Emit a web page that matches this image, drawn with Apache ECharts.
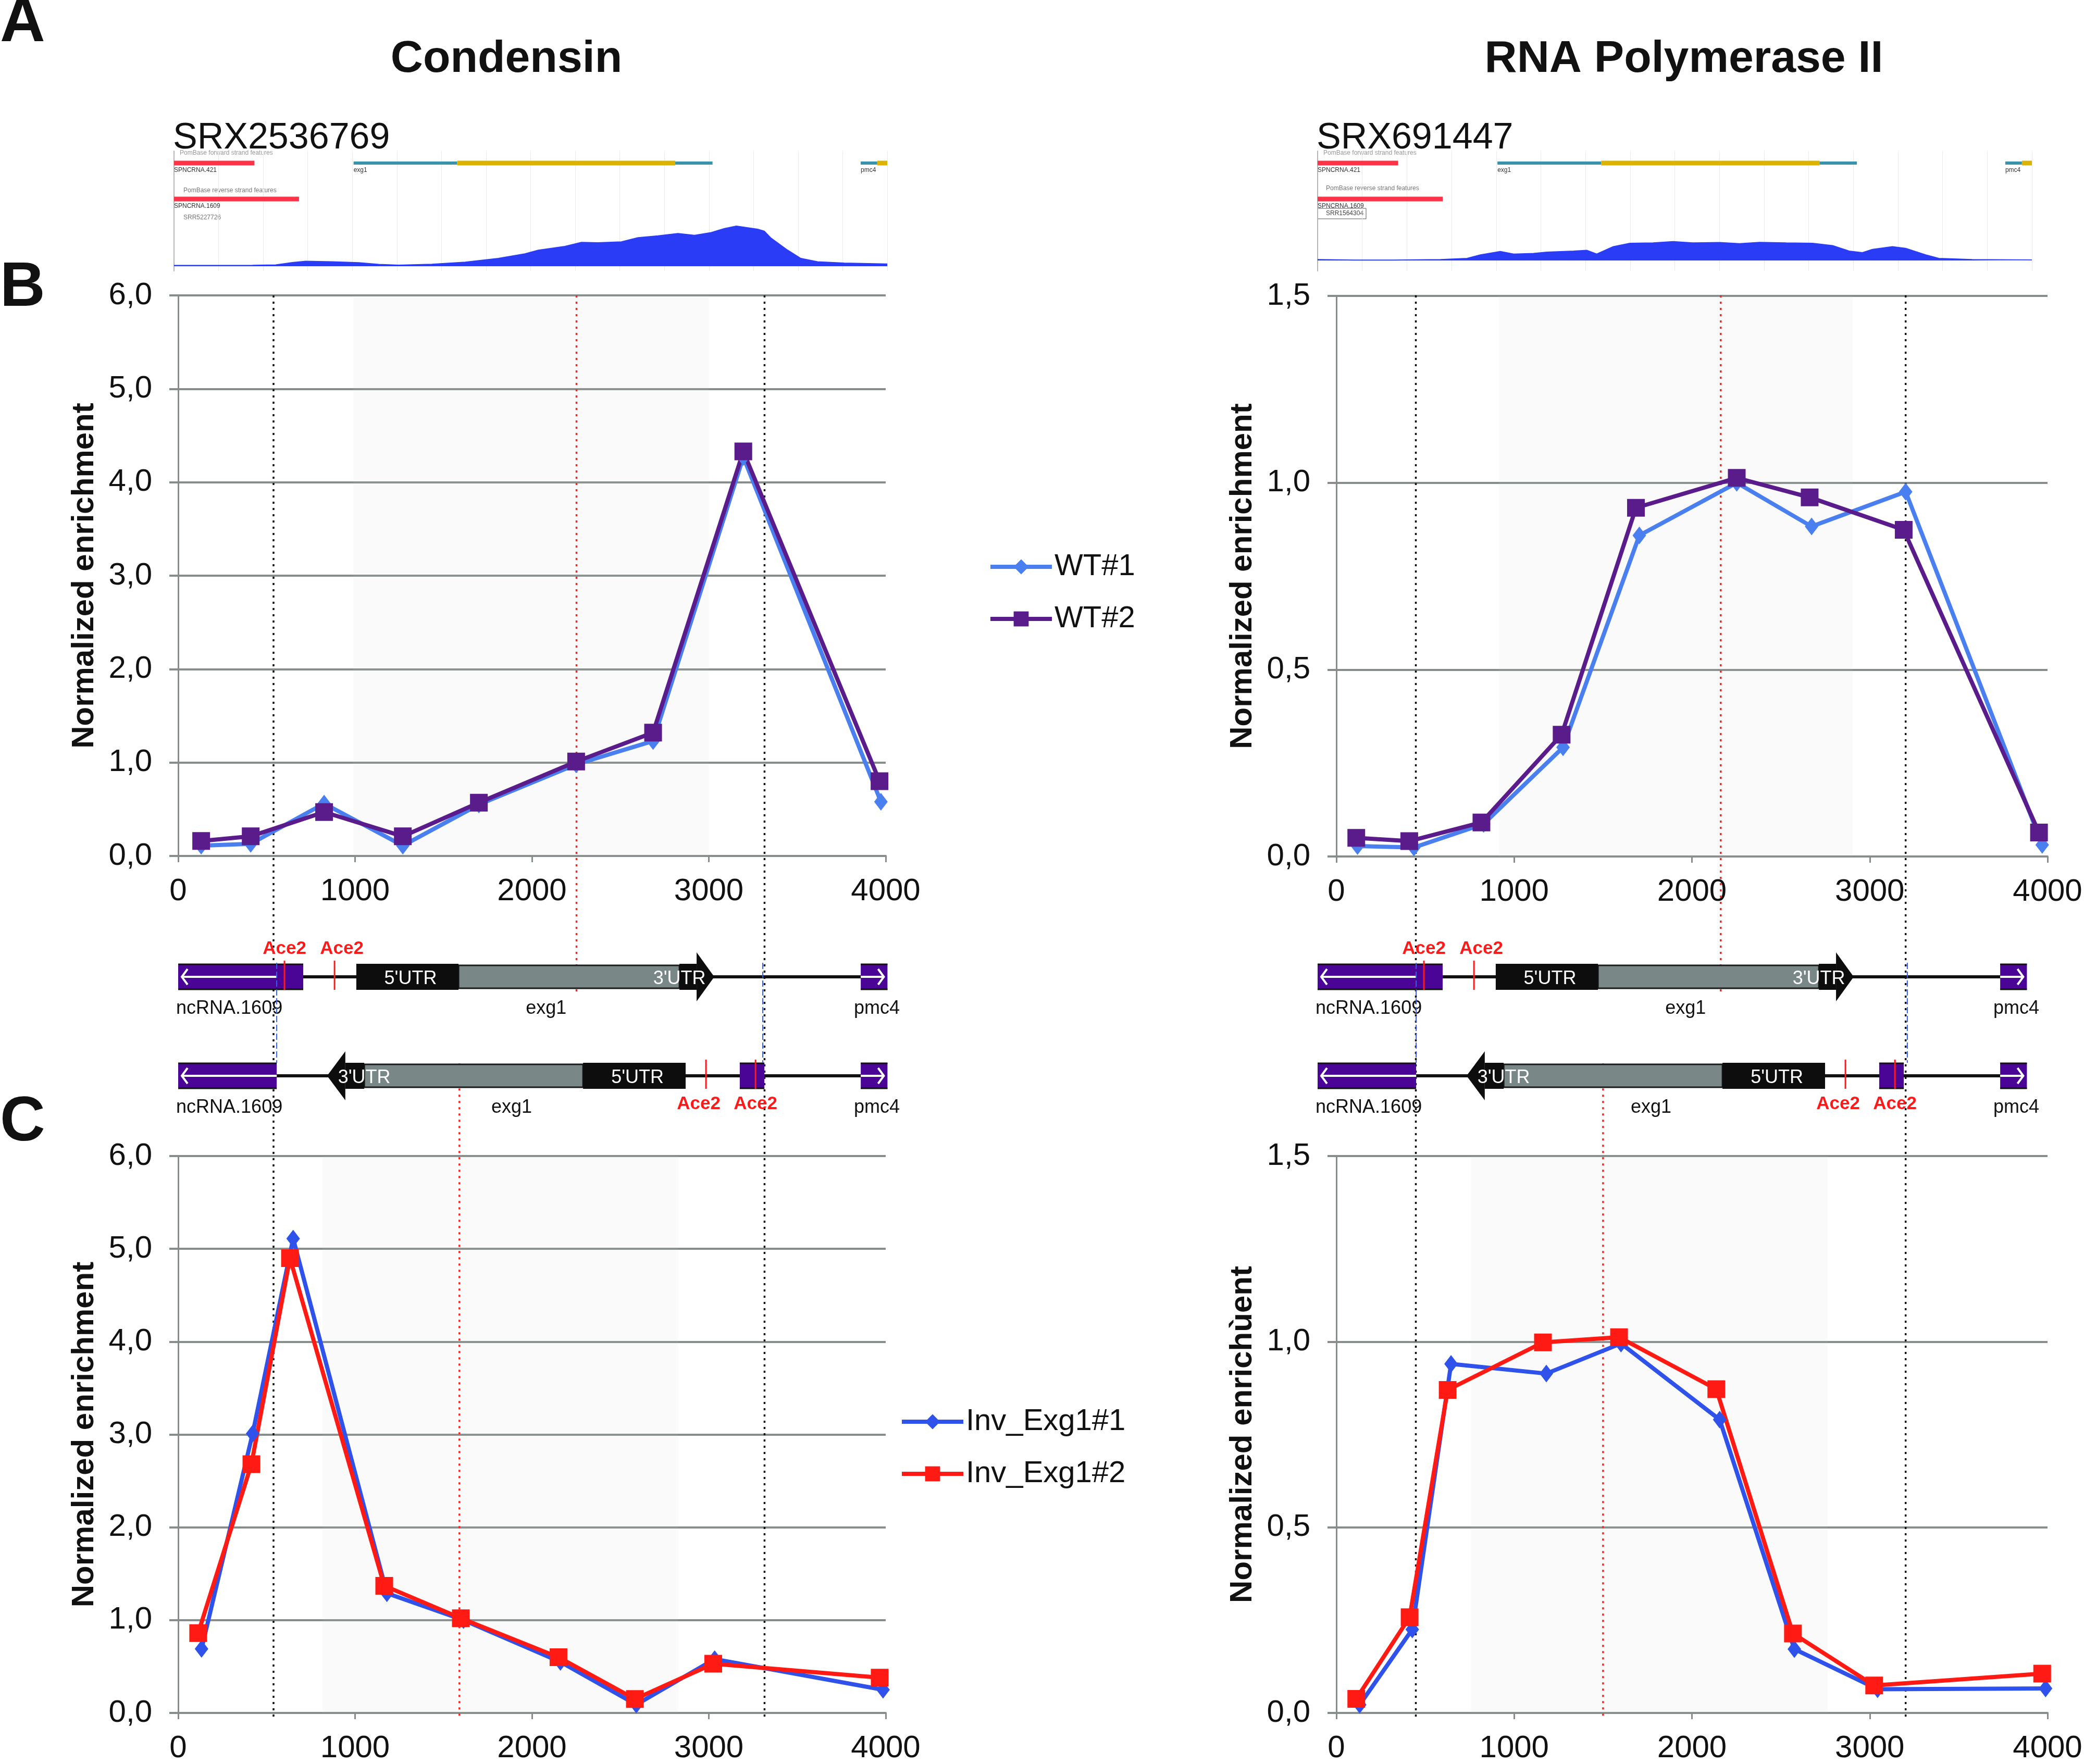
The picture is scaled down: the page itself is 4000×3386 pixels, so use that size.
<!DOCTYPE html>
<html>
<head>
<meta charset="utf-8">
<script src="https://cdn.jsdelivr.net/npm/echarts@6/dist/echarts.min.js"></script>
<style>
  html, body { margin: 0; padding: 0; background: #fff; }
  #chart { width: 4000px; height: 3386px; }
</style>
</head>
<body>
<div id="chart"></div>
<script>
const FONT = '"Liberation Sans", Arial, sans-serif';
const AXIS = '#878d8b';

// ---- panel B : wild type ----
const condWtX1 = [130, 410, 825, 1270, 1700, 2250, 2685, 3195, 3973];
const condWtX2 = [130, 410, 825, 1270, 1700, 2250, 2685, 3195, 3965];
const condWt1 = [0.11, 0.13, 0.56, 0.11, 0.55, 0.98, 1.23, 4.27, 0.58];
const condWt2 = [0.16, 0.21, 0.47, 0.21, 0.57, 1.01, 1.32, 4.33, 0.80];

const polWtX1 = [119, 436, 828, 1275, 1704, 2252, 2673, 3202, 3970];
const polWtX2 = [112, 410, 816, 1267, 1685, 2252, 2662, 3191, 3952];
const polWt1 = [0.028, 0.024, 0.087, 0.292, 0.859, 1.0, 0.883, 0.976, 0.031];
const polWt2 = [0.050, 0.041, 0.091, 0.326, 0.933, 1.013, 0.961, 0.874, 0.064];

// ---- panel C : inverted exg1 ----
const condInvX1 = [132, 421, 650, 1180, 1613, 2161, 2590, 3033, 3985];
const condInvX2 = [113, 414, 632, 1165, 1598, 2150, 2582, 3025, 3966];
const condInv1 = [0.69, 3.01, 5.11, 1.29, 1.00, 0.55, 0.09, 0.58, 0.25];
const condInv2 = [0.86, 2.68, 4.90, 1.37, 1.02, 0.60, 0.15, 0.53, 0.38];

const polInvX1 = [131, 427, 645, 1181, 1601, 2156, 2576, 3044, 3989];
const polInvX2 = [112, 412, 626, 1162, 1590, 2137, 2568, 3025, 3970];
const polInv1 = [0.022, 0.225, 0.940, 0.914, 0.995, 0.790, 0.172, 0.064, 0.066];
const polInv2 = [0.038, 0.258, 0.870, 0.998, 1.012, 0.872, 0.214, 0.074, 0.106];

// grey gene-body bands [from, to]
const bandB = [[990, 3000], [913, 2904]];
const bandC = [[816, 2827], [757, 2763]];

// dotted guides [x, fromPct, toPct, red?]
const guidesLeft = [[539, 0, 100, 0], [3315, 0, 100, 0], [2252, 0, 49, 1], [1590, 54, 100, 1]];
const guidesRight = [[447, 0, 100, 0], [3202, 0, 100, 0], [2162, 0, 49, 1], [1500, 54, 100, 1]];

// ---- ChIP-seq coverage tracks ----
const covLeftX = [0, 440, 570, 664, 738, 887, 1036, 1148, 1260, 1446, 1633, 1819, 1968, 2043, 2192, 2285, 2378, 2509, 2602, 2714, 2826, 2919, 3012, 3087, 3154, 3273, 3310, 3348, 3441, 3515, 3609, 3758, 4000];
const covLeftY = [1.5, 1.8, 2.6, 7.4, 10, 8.8, 7, 3.7, 2.2, 4, 8.1, 15.5, 24.7, 32, 39.4, 47.6, 46.8, 48.7, 56.8, 60.5, 65.3, 61.6, 67.1, 75.2, 80, 73.7, 70, 56, 32, 15.5, 8.8, 6.3, 4.4];
const covRightX = [0, 205, 428, 688, 837, 912, 1023, 1098, 1209, 1284, 1433, 1507, 1563, 1656, 1749, 1879, 1991, 2102, 2251, 2363, 2474, 2623, 2772, 2884, 2977, 3051, 3107, 3219, 3293, 3405, 3479, 3665, 4000];
const covRightY = [0.5, 0.2, 0.2, 0.5, 1.1, 2.9, 4.6, 3.3, 3.6, 4.3, 4.8, 5.2, 3.3, 7.1, 8.8, 9.0, 9.7, 9.0, 9.2, 8.6, 9.3, 9.0, 8.8, 7.6, 4.8, 4.0, 5.7, 7.1, 6.2, 2.9, 1.1, 0.5, 0.3];

// browser features [row, start, end, kind 0 ncRNA / 1 UTR / 2 CDS]
const trackBars = [[1, 0, 451, 0], [4, 0, 701, 0], [1, 1007, 1588, 1], [1, 1588, 2811, 2], [1, 2811, 3020, 1], [1, 3851, 3944, 1], [1, 3944, 4000, 2]];
const trackNames = ['SPNCRNA.421', 'exg1', 'pmc4', 'SPNCRNA.1609'];
const trackLabels = [[1, 0, 0], [1, 1007, 1], [1, 3851, 2], [4, 0, 3]];

// ---- gene maps (row 1 = wild type, row 3 = inverted) ----
const backbone = [[1, 707, 3859], [3, 557, 3859]];
const purpleBoxes = [[1, 0, 707, 557, -1], [3, 0, 557, 557, -1], [1, 3859, 4010, 4010, 1], [3, 3859, 4010, 4010, 1], [3, 3175, 3314, 3175, 0]];
const utr5Boxes = [[1, 1007, 1585], [3, 2289, 2869]];
const cdsBoxes = [[1, 1585, 2834], [3, 1052, 2289]];
const utr3Heads = [[1, 2834, 2931, 3031], [3, 1052, 945, 842]];
// [row, position, label side (-1 above / 1 below), label nudge]
const ace2Sites = [[1, 601, -1, 0], [1, 884, -1, 1], [3, 2984, 1, -1], [3, 3264, 1, 0]];
const geneNames = ['ncRNA.1609', 'exg1', 'pmc4'];
const geneLabels = [[1, 289, 0], [1, 2080, 1], [1, 3950, 2], [3, 289, 0], [3, 1885, 1], [3, 3950, 2]];
const junctionsLeft = [557, 3305];
const junctionsRight = [557, 3334];

const pts = (xs, ys) => xs.map((x, i) => [x, ys[i]]);
const comma = v => v.toFixed(1).replace('.', ',');

function txt(text, x, y, size, opts) {
  opts = opts || {};
  return {
    type: 'text', x: x, y: y, silent: true,
    style: {
      text: text, fill: opts.color || '#111', fontSize: size, fontFamily: FONT,
      fontWeight: opts.bold ? 'bold' : 'normal',
      align: opts.align || 'left', verticalAlign: 'middle',
      textAlign: opts.align || 'left', textVerticalAlign: 'middle'
    }
  };
}

// ---------- grids ----------
const grids = [
  { left: 342, top: 567, width: 1358, height: 1076 },   // 0 B condensin
  { left: 2565, top: 568, width: 1365, height: 1076 },  // 1 B pol II
  { left: 342, top: 2219, width: 1358, height: 1078 },  // 2 C condensin
  { left: 2565, top: 2219, width: 1365, height: 1078 }, // 3 C pol II
  { left: 342, top: 567, width: 1358, height: 2730 },   // 4 guides left
  { left: 2565, top: 567, width: 1365, height: 2730 },  // 5 guides right
  { left: 342, top: 1780, width: 1358, height: 380 },   // 6 map left
  { left: 2529, top: 1780, width: 1358, height: 380 },  // 7 map right
  { left: 334, top: 290, width: 1369, height: 230 },    // 8 browser left
  { left: 2529, top: 290, width: 1371, height: 230 },   // 9 browser right
  { left: 334, top: 434, width: 1369, height: 77 },     // 10 coverage left
  { left: 2529, top: 425, width: 1371, height: 75 }     // 11 coverage right
];

function chartX(gi) {
  return {
    gridIndex: gi, type: 'value', min: 0, max: 4000, interval: 1000,
    axisLine: { show: true, onZero: false, lineStyle: { color: AXIS, width: 4 } },
    axisTick: { show: true, length: 12, lineStyle: { color: AXIS, width: 3 } },
    axisLabel: { fontSize: 60, color: '#111', margin: 38, fontFamily: FONT, formatter: v => String(v) },
    splitLine: { show: false }
  };
}
function chartY(gi, max, interval, name) {
  return {
    gridIndex: gi, type: 'value', min: 0, max: max, interval: interval,
    axisLine: { show: true, lineStyle: { color: AXIS, width: 3 } },
    axisTick: { show: true, length: 17, lineStyle: { color: AXIS, width: 4 } },
    axisLabel: { fontSize: 60, color: '#111', margin: 50, fontFamily: FONT, formatter: comma },
    splitLine: { show: true, lineStyle: { color: AXIS, width: 4 } },
    name: name, nameLocation: 'middle', nameGap: 150,
    nameTextStyle: { fontSize: 60, fontWeight: 'bold', color: '#111', fontFamily: FONT }
  };
}
function hiddenAxis(gi, min, max, inverse) {
  return { gridIndex: gi, type: 'value', min: min, max: max, inverse: !!inverse, show: false };
}

const xAxis = [
  chartX(0), chartX(1), chartX(2), chartX(3),
  hiddenAxis(4, 0, 4000), hiddenAxis(5, 0, 4000),
  hiddenAxis(6, 0, 4000), hiddenAxis(7, 0, 4000),
  { gridIndex: 8, type: 'value', min: 0, max: 4000, interval: 250, axisLine: { show: false }, axisTick: { show: false }, axisLabel: { show: false }, splitLine: { show: true, lineStyle: { color: '#e9e9e9', width: 1 } } },
  { gridIndex: 9, type: 'value', min: 0, max: 4000, interval: 250, axisLine: { show: false }, axisTick: { show: false }, axisLabel: { show: false }, splitLine: { show: true, lineStyle: { color: '#e9e9e9', width: 1 } } },
  hiddenAxis(10, 0, 4000), hiddenAxis(11, 0, 4000)
];
const yAxis = [
  chartY(0, 6, 1, 'Normalized enrichment'),
  chartY(1, 1.5, 0.5, 'Normalized enrichment'),
  chartY(2, 6, 1, 'Normalized enrichment'),
  chartY(3, 1.5, 0.5, 'Normalized enrichùent'),
  hiddenAxis(4, 0, 100, true), hiddenAxis(5, 0, 100, true),
  hiddenAxis(6, 0, 4, true), hiddenAxis(7, 0, 4, true),
  { gridIndex: 8, type: 'value', min: 0, max: 10, inverse: true, axisLine: { show: true, lineStyle: { color: '#b5b5b5', width: 2 } }, axisTick: { show: false }, axisLabel: { show: false }, splitLine: { show: false } },
  { gridIndex: 9, type: 'value', min: 0, max: 10, inverse: true, axisLine: { show: true, lineStyle: { color: '#b5b5b5', width: 2 } }, axisTick: { show: false }, axisLabel: { show: false }, splitLine: { show: false } },
  hiddenAxis(10, 0, 80), hiddenAxis(11, 0, 20)
];

// ---------- series helpers ----------
function lineSeries(name, xs, ys, gi, color, symbol, size, band) {
  const s = {
    type: 'line', name: name, xAxisIndex: gi, yAxisIndex: gi, data: pts(xs, ys),
    symbol: symbol, symbolSize: size, showAllSymbol: true,
    lineStyle: { color: color, width: 8 }, itemStyle: { color: color },
    z: 5, animation: false
  };
  if (band) {
    s.markArea = { silent: true, itemStyle: { color: 'rgba(195,205,200,0.09)' }, data: [[{ xAxis: band[0] }, { xAxis: band[1] }]] };
  }
  return s;
}

function renderGuide(params, api) {
  const a = api.coord([api.value(0), api.value(1)]);
  const b = api.coord([api.value(0), api.value(2)]);
  const red = api.value(3) === 1;
  return { type: 'line', shape: { x1: a[0], y1: a[1], x2: b[0], y2: b[1] },
    style: { stroke: red ? '#ff2424' : '#111', lineWidth: 3.5, lineDash: [4, 8] } };
}

function renderBackbone(params, api) {
  const a = api.coord([api.value(1), api.value(0)]);
  const b = api.coord([api.value(2), api.value(0)]);
  return { type: 'rect', shape: { x: a[0], y: a[1] - 3, width: b[0] - a[0], height: 6 }, style: { fill: '#111' } };
}

function renderPurple(params, api) {
  const row = api.value(0);
  const a = api.coord([api.value(1), row]);
  const b = api.coord([api.value(2), row]);
  const c = api.coord([api.value(3), row]);
  const dir = api.value(4);
  const y = a[1];
  const kids = [
    { type: 'rect', shape: { x: a[0], y: y - 25, width: b[0] - a[0], height: 50 }, style: { fill: '#4a0597' } },
    { type: 'line', shape: { x1: a[0], y1: y - 24, x2: b[0], y2: y - 24 }, style: { stroke: '#111', lineWidth: 3 } },
    { type: 'line', shape: { x1: a[0], y1: y + 24, x2: b[0], y2: y + 24 }, style: { stroke: '#111', lineWidth: 3 } }
  ];
  if (dir < 0) {
    kids.push({ type: 'line', shape: { x1: a[0] + 6, y1: y, x2: c[0], y2: y }, style: { stroke: '#fff', lineWidth: 4 } });
    kids.push({ type: 'polyline', shape: { points: [[a[0] + 18, y - 15], [a[0] + 7, y], [a[0] + 18, y + 15]] }, style: { stroke: '#fff', lineWidth: 4, fill: null } });
  } else if (dir > 0) {
    kids.push({ type: 'line', shape: { x1: a[0], y1: y, x2: c[0] - 6, y2: y }, style: { stroke: '#fff', lineWidth: 4 } });
    kids.push({ type: 'polyline', shape: { points: [[c[0] - 18, y - 15], [c[0] - 7, y], [c[0] - 18, y + 15]] }, style: { stroke: '#fff', lineWidth: 4, fill: null } });
  }
  return { type: 'group', children: kids };
}

function utrText(s, x, y) {
  return { type: 'text', x: x, y: y, style: { text: s, fill: '#fff', fontSize: 36, fontFamily: FONT,
    align: 'center', verticalAlign: 'middle', textAlign: 'center', textVerticalAlign: 'middle' } };
}

function renderUtr5(params, api) {
  const a = api.coord([api.value(1), api.value(0)]);
  const b = api.coord([api.value(2), api.value(0)]);
  return { type: 'group', children: [
    { type: 'rect', shape: { x: a[0], y: a[1] - 25, width: b[0] - a[0], height: 50 }, style: { fill: '#0d0d0d' } },
    utrText("5'UTR", (a[0] + b[0]) / 2 + 6, a[1] + 4)
  ] };
}

function renderCds(params, api) {
  const a = api.coord([api.value(1), api.value(0)]);
  const b = api.coord([api.value(2), api.value(0)]);
  return { type: 'rect', shape: { x: Math.min(a[0], b[0]), y: a[1] - 22, width: Math.abs(b[0] - a[0]), height: 44 },
    style: { fill: '#798886', stroke: '#1a1a1a', lineWidth: 3 } };
}

function renderUtr3(params, api) {
  const row = api.value(0);
  const s = api.coord([api.value(1), row]);
  const base = api.coord([api.value(2), row]);
  const tip = api.coord([api.value(3), row]);
  const y = s[1];
  return { type: 'group', children: [
    { type: 'rect', shape: { x: Math.min(s[0], base[0]), y: y - 25, width: Math.abs(base[0] - s[0]), height: 50 }, style: { fill: '#0d0d0d' } },
    { type: 'polygon', shape: { points: [[base[0], y - 47], [tip[0], y], [base[0], y + 47]] }, style: { fill: '#0d0d0d' } },
    utrText("3'UTR", s[0], y + 4)
  ] };
}

function renderSite(params, api) {
  const p = api.coord([api.value(1), api.value(0)]);
  const side = api.value(2);
  const nudge = api.value(3) * 14;
  return { type: 'group', children: [
    { type: 'line', shape: { x1: p[0], y1: p[1] - 31, x2: p[0], y2: p[1] + 25 }, style: { stroke: '#ff1a1a', lineWidth: 3 } },
    { type: 'text', x: p[0] + nudge, y: p[1] + side * 54, style: { text: 'Ace2', fill: '#ff1a1a', fontSize: 35, fontWeight: 'bold', fontFamily: FONT,
      align: 'center', verticalAlign: 'middle', textAlign: 'center', textVerticalAlign: 'middle' } }
  ] };
}

function renderGeneLabel(params, api) {
  const p = api.coord([api.value(1), api.value(0)]);
  return { type: 'text', x: p[0], y: p[1] + 61, style: { text: geneNames[api.value(2)], fill: '#111', fontSize: 36, fontFamily: FONT,
    align: 'center', verticalAlign: 'middle', textAlign: 'center', textVerticalAlign: 'middle' } };
}

function junctionRender(params, api) {
  const a = api.coord([api.value(0), 1]);
  const b = api.coord([api.value(0), 3]);
  return { type: 'line', shape: { x1: a[0], y1: a[1] - 27, x2: b[0], y2: b[1] - 25 },
    style: { stroke: '#3a5fe6', lineWidth: 2, lineDash: [12, 5] } };
}

const TRACK_COLORS = ['#ff3347', '#3b93ab', '#dbb300'];
function renderTrackBar(params, api) {
  const row = api.value(0), k = api.value(3);
  const a = api.coord([api.value(1), row]);
  const b = api.coord([api.value(2), row]);
  const h = k === 1 ? 6 : 9;
  return { type: 'rect', shape: { x: a[0], y: a[1] - h / 2, width: b[0] - a[0], height: h }, style: { fill: TRACK_COLORS[k] } };
}
function renderTrackLabel(params, api) {
  const p = api.coord([api.value(1), api.value(0)]);
  return { type: 'text', x: p[0], y: p[1] + 14, style: { text: trackNames[api.value(2)], fill: '#333', fontSize: 12, fontFamily: FONT,
    align: 'left', verticalAlign: 'middle', textAlign: 'left', textVerticalAlign: 'middle' } };
}

function custom(gi, data, render, encode, z) {
  return { type: 'custom', xAxisIndex: gi, yAxisIndex: gi, data: data, renderItem: render,
    encode: encode || { x: 1, y: 0 }, silent: true, animation: false, z: z || 2 };
}

const series = [
  // guides behind everything
  custom(4, guidesLeft, renderGuide, { x: 0, y: 1 }, 1),
  custom(5, guidesRight, renderGuide, { x: 0, y: 1 }, 1),

  lineSeries('WT#1', condWtX1, condWt1, 0, '#4a7ff0', 'diamond', [26, 34], bandB[0]),
  lineSeries('WT#2', condWtX2, condWt2, 0, '#5a1b8b', 'rect', 34),
  lineSeries('WT#1', polWtX1, polWt1, 1, '#4a7ff0', 'diamond', [26, 34], bandB[1]),
  lineSeries('WT#2', polWtX2, polWt2, 1, '#5a1b8b', 'rect', 34),
  lineSeries('Inv_Exg1#1', condInvX1, condInv1, 2, '#2f52ea', 'diamond', [26, 34], bandC[0]),
  lineSeries('Inv_Exg1#2', condInvX2, condInv2, 2, '#ff1a14', 'rect', 34),
  lineSeries('Inv_Exg1#1', polInvX1, polInv1, 3, '#2f52ea', 'diamond', [26, 34], bandC[1]),
  lineSeries('Inv_Exg1#2', polInvX2, polInv2, 3, '#ff1a14', 'rect', 34)
];

[6, 7].forEach(function (gi) {
  const junctions = gi === 6 ? junctionsLeft : junctionsRight;
  series.push(custom(gi, backbone, renderBackbone));
  series.push(custom(gi, cdsBoxes, renderCds, null, 3));
  series.push(custom(gi, utr3Heads, renderUtr3, null, 3));
  series.push(custom(gi, utr5Boxes, renderUtr5, null, 3));
  series.push(custom(gi, purpleBoxes, renderPurple, null, 3));
  series.push(custom(gi, ace2Sites, renderSite, null, 4));
  series.push(custom(gi, geneLabels, renderGeneLabel, null, 4));
  series.push(custom(gi, junctions.map(x => [x]), junctionRender, { x: 0 }, 5));
});

[8, 9].forEach(function (gi) {
  series.push(custom(gi, trackBars, renderTrackBar));
  series.push(custom(gi, trackLabels, renderTrackLabel));
});

series.push({ type: 'line', xAxisIndex: 10, yAxisIndex: 10, data: pts(covLeftX, covLeftY), symbol: 'none',
  lineStyle: { color: '#2a3cf6', width: 2 }, areaStyle: { color: '#2a3cf6', opacity: 1 }, silent: true, animation: false });
series.push({ type: 'line', xAxisIndex: 11, yAxisIndex: 11, data: pts(covRightX, covRightY), symbol: 'none',
  lineStyle: { color: '#2a3cf6', width: 2 }, areaStyle: { color: '#2a3cf6', opacity: 1 }, silent: true, animation: false });

const legendBase = {
  orient: 'vertical', itemWidth: 118, itemHeight: 36, itemGap: 42,
  textStyle: { fontSize: 58, color: '#111', fontFamily: FONT },
  lineStyle: { width: 8 },
  selectedMode: false
};

const option = {
  backgroundColor: '#fff',
  animation: false,
  textStyle: { fontFamily: FONT },
  grid: grids,
  xAxis: xAxis,
  yAxis: yAxis,
  legend: [
    Object.assign({}, legendBase, { data: ['WT#1', 'WT#2'], left: 1892, top: 1054 }),
    Object.assign({}, legendBase, { data: ['Inv_Exg1#1', 'Inv_Exg1#2'], left: 1722, top: 2695 })
  ],
  series: series,
  graphic: [
    txt('A', 0, 46, 120, { bold: true }),
    txt('B', 0, 554, 120, { bold: true }),
    txt('C', 0, 2156, 120, { bold: true }),
    txt('Condensin', 972, 114, 86, { bold: true, align: 'center' }),
    txt('RNA Polymerase II', 3232, 114, 86, { bold: true, align: 'center' }),
    txt('SRX2536769', 332, 266, 70),
    txt('SRX691447', 2527, 266, 70),
    txt('PomBase forward strand features', 345, 294, 12, { color: '#999' }),
    txt('PomBase reverse strand features', 352, 366, 12, { color: '#777' }),
    txt('SRR5227726', 352, 418, 12, { color: '#777' }),
    txt('PomBase forward strand features', 2540, 294, 12, { color: '#999' }),
    txt('PomBase reverse strand features', 2545, 362, 12, { color: '#777' }),
    { type: 'rect', shape: { x: 2529, y: 400, width: 93, height: 20 }, style: { fill: '#fff', stroke: '#555', lineWidth: 1 }, silent: true },
    txt('SRR1564304', 2545, 410, 12, { color: '#444' })
  ]
};

const chart = echarts.init(document.getElementById('chart'));
chart.setOption(option);
</script>
</body>
</html>
